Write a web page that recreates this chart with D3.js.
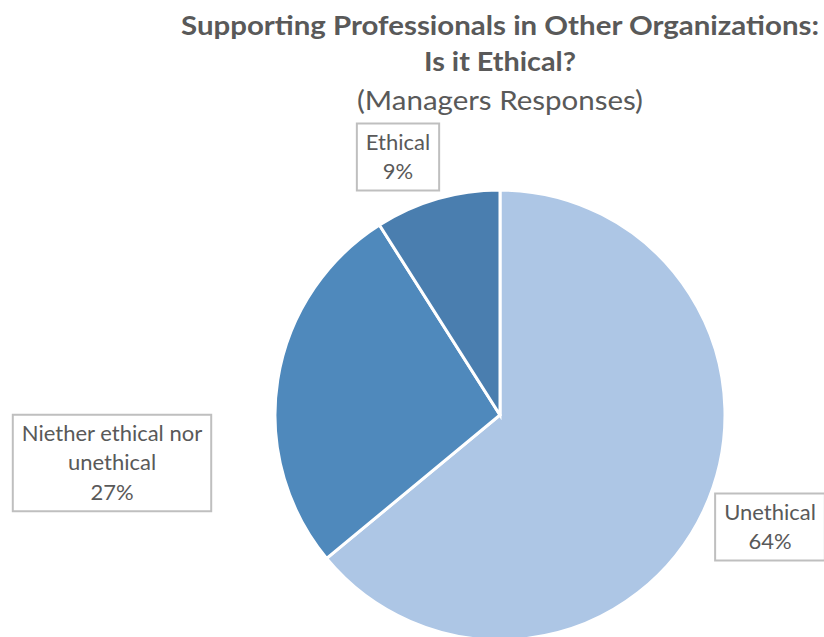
<!DOCTYPE html>
<html>
<head>
<meta charset="utf-8">
<script src="https://cdn.jsdelivr.net/npm/d3@7"></script>
<style>
  html, body { margin: 0; padding: 0; background: #ffffff; }
  svg { display: block; }
</style>
</head>
<body>
<svg id="chart" width="824" height="637"></svg>
<script>
// Survey responses (share of managers)
const categories = ["Unethical", "Niether ethical nor unethical", "Ethical"];
const values = [64, 27, 9];
const percentLabels = ["64%", "27%", "9%"];
const labelLines = [["Unethical"], ["Niether ethical nor", "unethical"], ["Ethical"]];
const colors = ["#adc6e5", "#4f89bc", "#4a7eaf"];

const titleLines = [
  { text: "Supporting Professionals in Other Organizations:", bold: true },
  { text: "Is it Ethical?", bold: true },
  { text: "(Managers Responses)", bold: false }
];

const svg = d3.select("#chart");
const cx = 500, cy = 415, radius = 225;
const textColor = "#595959";
const fontFamily = "Lato, 'Open Sans', sans-serif";

// Title, three centred lines
const titleBaselines = [35, 71, 110];
const titleWidths = [638, 152, 286];
const titleSizes = [27, 27, 27.5];
titleLines.forEach((t, i) => {
  svg.append("text")
    .attr("x", cx)
    .attr("y", titleBaselines[i])
    .attr("text-anchor", "middle")
    .attr("font-family", fontFamily)
    .attr("font-size", titleSizes[i])
    .attr("font-weight", t.bold ? 700 : 400)
    .attr("fill", textColor)
    .attr("textLength", titleWidths[i])
    .attr("lengthAdjust", "spacingAndGlyphs")
    .text(t.text);
});

// Pie, clockwise from 12 o'clock
const pie = d3.pie().sort(null).value(d => d.value).startAngle(0).endAngle(2 * Math.PI);
const arc = d3.arc().innerRadius(0).outerRadius(radius);
const data = categories.map((c, i) => ({ name: c, value: values[i], pct: percentLabels[i], lines: labelLines[i], color: colors[i] }));
const arcs = pie(data);

const g = svg.append("g").attr("transform", `translate(${cx},${cy})`);
g.selectAll("path.slice")
  .data(arcs)
  .join("path")
  .attr("class", "slice")
  .attr("d", arc)
  .attr("fill", d => d.data.color)
  .attr("stroke", "#ffffff")
  .attr("stroke-width", 3)
  .attr("stroke-linejoin", "miter");

// Data labels in outlined boxes outside the slices
const labelCenters = [
  { dx: 270, dy: 112 },   // Unethical
  { dx: -388, dy: 48 },   // Niether
  { dx: -102, dy: -258 }  // Ethical
];
const lineHeight = 29.5;
const labelSize = 22;

arcs.forEach((a, i) => {
  const lines = a.data.lines.concat([a.data.pct]);
  const c = labelCenters[i];
  const lg = svg.append("g").attr("transform", `translate(${cx + c.dx},${cy + c.dy})`);
  const rect = lg.append("rect");
  const totalH = lineHeight * lines.length;
  const txt = lg.append("text")
    .attr("text-anchor", "middle")
    .attr("font-family", fontFamily)
    .attr("font-size", labelSize)
    .attr("fill", textColor);
  lines.forEach((ln, j) => {
    txt.append("tspan")
      .attr("x", 0)
      .attr("y", -totalH / 2 + lineHeight * j + 22)
      .text(ln);
  });
  const bb = txt.node().getBBox();
  const padX = 9;
  rect.attr("x", bb.x - padX)
    .attr("y", -totalH / 2 - 4)
    .attr("width", bb.width + 2 * padX)
    .attr("height", totalH + 8)
    .attr("fill", "#ffffff")
    .attr("stroke", "#bfbfbf")
    .attr("stroke-width", 2);
});
</script>
</body>
</html>
